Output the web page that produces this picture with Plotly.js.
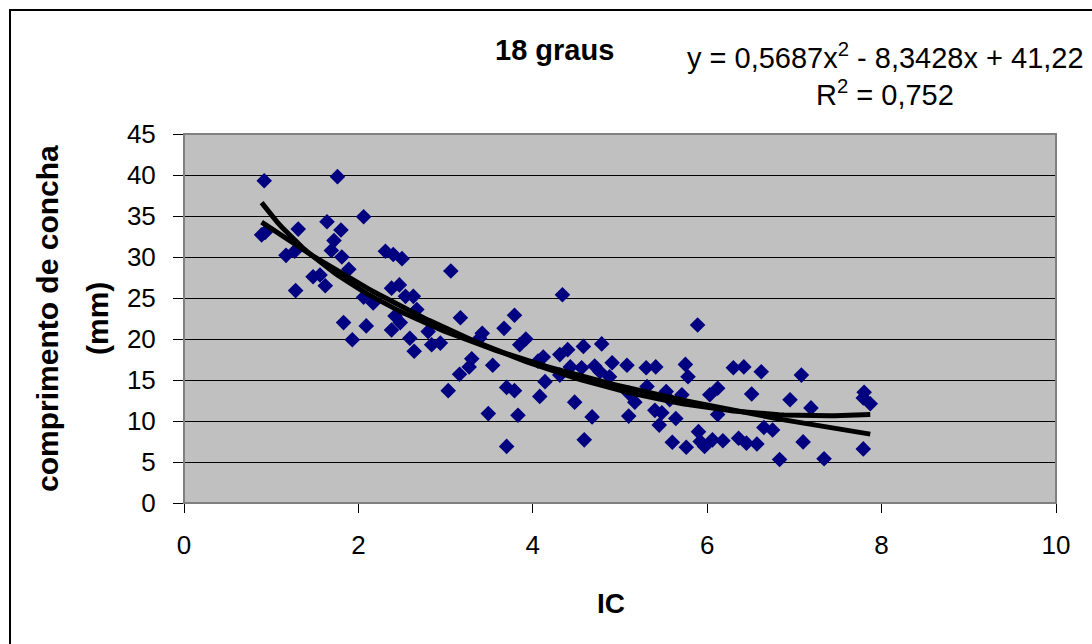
<!DOCTYPE html>
<html>
<head>
<meta charset="utf-8">
<script src="https://cdn.plot.ly/plotly-3.0.1.min.js"></script>
<style>
  html, body { margin: 0; padding: 0; background: #ffffff; }
  #chart { width: 1092px; height: 644px; }
</style>
</head>
<body>
<div id="chart"></div>
<script>
// Shell length vs. IC, samples kept at 18 degrees
const ic = [
  0.92, 1.76, 0.89, 0.93, 1.31, 1.64, 2.06, 1.80, 1.72, 1.69,
  1.17, 1.27, 1.81, 2.31, 2.40, 2.50, 1.89, 1.48, 1.56, 1.62,
  1.28, 2.06, 2.17, 2.38, 2.47, 2.54, 2.63, 2.67, 2.42, 2.48,
  2.38, 2.59, 2.64, 2.84, 2.80, 1.83, 2.09, 1.93, 3.06, 4.34,
  3.17, 3.79, 3.67, 3.42, 2.94, 3.39, 3.92, 3.85, 3.30, 3.27,
  3.16, 3.54, 3.03, 3.70, 3.79, 3.49, 3.83, 3.70, 4.12, 4.06,
  4.14, 4.08, 4.31, 4.40, 4.58, 4.79, 4.91, 4.43, 4.56, 4.71,
  4.77, 4.31, 4.48, 4.68, 4.59, 4.88, 5.08, 5.30, 5.41, 5.75,
  5.78, 5.89, 6.30, 6.42, 6.62, 7.08, 5.31, 5.10, 5.17, 5.53,
  5.57, 5.71, 6.03, 6.12, 6.51, 6.95, 6.12, 5.40, 5.48, 5.45,
  5.64, 5.10, 5.60, 5.76, 5.90, 5.92, 5.97, 6.06, 6.18, 6.36,
  6.45, 6.57, 6.65, 6.75, 6.83, 7.10, 7.19, 7.34, 7.80, 7.79,
  7.87, 7.79
];
const comprimento = [
  39.3, 39.8, 32.7, 33.0, 33.4, 34.3, 34.9, 33.3, 32.0, 30.8,
  30.2, 30.7, 30.0, 30.7, 30.3, 29.8, 28.5, 27.6, 27.8, 26.5,
  25.9, 25.1, 24.4, 26.2, 26.6, 25.2, 25.2, 23.6, 22.8, 22.0,
  21.1, 20.1, 18.5, 19.3, 20.9, 22.0, 21.6, 19.9, 28.3, 25.4,
  22.6, 22.9, 21.3, 20.7, 19.5, 20.1, 20.0, 19.3, 17.6, 16.6,
  15.7, 16.8, 13.7, 14.1, 13.7, 10.9, 10.7, 6.9, 17.8, 17.3,
  14.8, 13.0, 18.1, 18.7, 19.1, 19.4, 17.1, 16.6, 16.5, 16.7,
  16.0, 15.6, 12.3, 10.5, 7.7, 15.4, 16.8, 16.5, 16.6, 16.9,
  15.4, 21.7, 16.5, 16.6, 16.0, 15.6, 14.2, 13.4, 12.3, 13.6,
  12.6, 13.2, 13.2, 14.0, 13.3, 12.6, 10.8, 11.3, 11.0, 9.5,
  10.3, 10.6, 7.4, 6.8, 8.7, 7.5, 6.9, 7.7, 7.6, 7.9,
  7.3, 7.2, 9.2, 8.9, 5.3, 7.45, 11.6, 5.4, 13.5, 12.8,
  12.1, 6.6
];

// Second-order polynomial trend as printed on the chart
const polyCoef = [0.5687, -8.3428, 41.22];   // a x^2 + b x + c
const polyR2 = 0.752;

const xTicks = [0, 2, 4, 6, 8, 10];
const yTicks = [0, 5, 10, 15, 20, 25, 30, 35, 40, 45];

// Logarithmic least-squares trend y = m ln(x) + k
function logFit(xs, ys) {
  const n = xs.length;
  let sx = 0, sy = 0, sxx = 0, sxy = 0;
  for (let i = 0; i < n; i++) {
    const lx = Math.log(xs[i]);
    sx += lx; sy += ys[i]; sxx += lx * lx; sxy += lx * ys[i];
  }
  const m = (n * sxy - sx * sy) / (n * sxx - sx * sx);
  const k = (sy - m * sx) / n;
  return { m, k };
}

const xMin = Math.min(...ic), xMax = Math.max(...ic);
const steps = 120;
const trendX = [];
for (let i = 0; i <= steps; i++) trendX.push(xMin + (xMax - xMin) * i / steps);

const polyY = trendX.map(x => polyCoef[0] * x * x + polyCoef[1] * x + polyCoef[2]);
const lf = logFit(ic, comprimento);
const logY = trendX.map(x => lf.m * Math.log(x) + lf.k);

const fmt = v => String(Math.abs(v)).replace('.', ',');
const sign = v => (v < 0 ? ' - ' : ' + ');
const eqText = 'y = ' + fmt(polyCoef[0]) + 'x<sup>2</sup>' + sign(polyCoef[1]) + fmt(polyCoef[1]) + 'x' +
               sign(polyCoef[2]) + fmt(polyCoef[2]);
const r2Text = 'R<sup>2</sup> = ' + fmt(polyR2);

const FONT = 'Liberation Sans, Arial, sans-serif';

const traces = [
  {
    x: ic, y: comprimento, type: 'scatter', mode: 'markers',
    marker: { symbol: 'diamond', size: 12, color: '#000080', line: { width: 0 } },
    hoverinfo: 'x+y'
  },
  {
    x: trendX, y: logY, type: 'scatter', mode: 'lines',
    line: { color: '#000000', width: 5 }, hoverinfo: 'skip'
  },
  {
    x: trendX, y: polyY, type: 'scatter', mode: 'lines',
    line: { color: '#000000', width: 5 }, hoverinfo: 'skip'
  }
];

// pixel helpers for placing free text around the plot area
const PL = 184, PW = 872, PB = 503, PH = 369;
const px = v => (v - PL) / PW;
const py = v => (PB - v) / PH;

const layout = {
  width: 1092, height: 644,
  margin: { l: 184, r: 36, t: 134, b: 141, pad: 0 },
  paper_bgcolor: '#ffffff',
  plot_bgcolor: '#C0C0C0',
  showlegend: false,
  font: { family: FONT, color: '#000000' },
  xaxis: {
    range: [0, 10], tickvals: xTicks, ticktext: xTicks.map(String),
    showgrid: false, zeroline: false,
    showline: true, linecolor: '#000000', linewidth: 1,
    ticks: 'outside', ticklen: 9, tickcolor: '#000000', tickwidth: 1,
    ticklabelstandoff: 10,
    tickfont: { family: FONT, size: 26, color: '#000000' }
  },
  yaxis: {
    range: [0, 45], tickvals: yTicks, ticktext: yTicks.map(String),
    showgrid: true, gridcolor: '#000000', gridwidth: 1, zeroline: false,
    showline: true, linecolor: '#000000', linewidth: 1,
    ticks: 'outside', ticklen: 10, tickcolor: '#000000', tickwidth: 1,
    ticklabelstandoff: 12,
    tickfont: { family: FONT, size: 26, color: '#000000' }
  },
  shapes: [
    // plot area frame
    { type: 'rect', xref: 'paper', yref: 'paper', x0: 0, x1: 1, y0: 0, y1: 1,
      line: { color: '#808080', width: 2 }, layer: 'above' },
    // chart area frame
    { type: 'rect', xref: 'paper', yref: 'paper', x0: px(10), x1: 1.2, y0: -0.5, y1: py(10),
      line: { color: '#000000', width: 2 } }
  ],
  annotations: [
    { text: '<b>18 graus</b>', xref: 'paper', yref: 'paper', x: px(554), y: py(50),
      xanchor: 'center', yanchor: 'middle', showarrow: false,
      font: { family: FONT, size: 29, color: '#000000' } },
    { text: eqText, xref: 'paper', yref: 'paper', x: px(885), y: py(56),
      xanchor: 'center', yanchor: 'middle', showarrow: false,
      font: { family: FONT, size: 29, color: '#000000' } },
    { text: r2Text, xref: 'paper', yref: 'paper', x: px(885), y: py(93),
      xanchor: 'center', yanchor: 'middle', showarrow: false,
      font: { family: FONT, size: 29, color: '#000000' } },
    { text: '<b>IC</b>', xref: 'paper', yref: 'paper', x: px(611), y: py(603),
      xanchor: 'center', yanchor: 'middle', showarrow: false,
      font: { family: FONT, size: 28, color: '#000000' } },
    { text: '<b>comprimento de concha</b>', xref: 'paper', yref: 'paper',
      x: px(47), y: py(319), textangle: -90,
      xanchor: 'center', yanchor: 'middle', showarrow: false,
      font: { family: FONT, size: 30, color: '#000000' } },
    { text: '<b>(mm)</b>', xref: 'paper', yref: 'paper',
      x: px(97), y: py(319), textangle: -90,
      xanchor: 'center', yanchor: 'middle', showarrow: false,
      font: { family: FONT, size: 30, color: '#000000' } }
  ]
};

Plotly.newPlot('chart', traces, layout, { displayModeBar: false, staticPlot: true });
</script>
</body>
</html>
